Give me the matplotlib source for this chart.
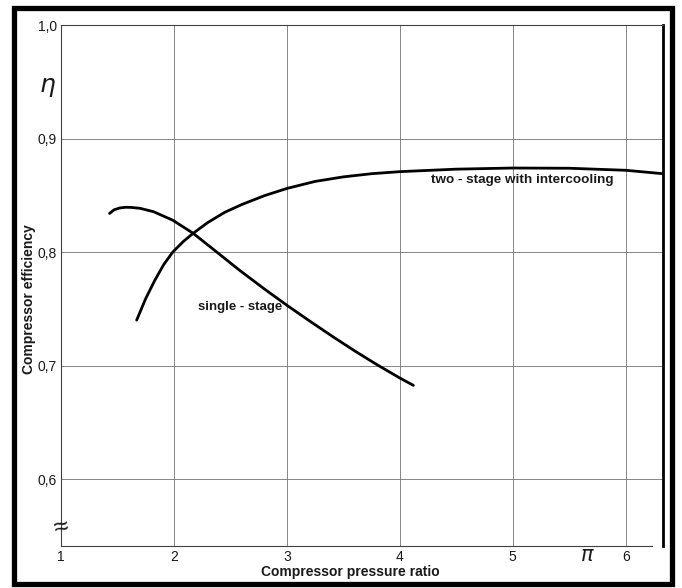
import matplotlib.pyplot as plt
from matplotlib.patches import Rectangle

plt.rcParams['font.family'] = ['Liberation Sans', 'DejaVu Sans']

# compressor efficiency vs pressure ratio
two_stage_pi = [1.67, 1.75, 1.83, 1.91, 1.99, 2.08, 2.17, 2.3, 2.45, 2.6, 2.8, 3.0,
                3.25, 3.5, 3.75, 4.0, 4.5, 5.0, 5.5, 6.0, 6.33]
two_stage_eta = [0.740, 0.759, 0.775, 0.789, 0.800, 0.809, 0.8165, 0.826, 0.835, 0.8418,
                 0.8496, 0.856, 0.8622, 0.8662, 0.869, 0.8708, 0.873, 0.874, 0.8738,
                 0.872, 0.869]

single_stage_pi = [1.43, 1.47, 1.52, 1.57, 1.62, 1.7, 1.82, 1.99, 2.17, 2.4, 2.58, 2.8,
                   3.0, 3.2, 3.41, 3.6, 3.8, 4.0, 4.12]
single_stage_eta = [0.834, 0.8372, 0.8388, 0.8394, 0.8393, 0.8385, 0.8355, 0.828, 0.8165,
                    0.7983, 0.784, 0.7675, 0.7531, 0.7393, 0.7252, 0.7129, 0.7006, 0.689,
                    0.6825]

x_ticks = [1, 2, 3, 4, 5, 6]
y_ticks = [0.6, 0.7, 0.8, 0.9, 1.0]
y_tick_labels = ['0,6', '0,7', '0,8', '0,9', '1,0']

W, H = 682, 588
fig = plt.figure(figsize=(W / 100, H / 100), dpi=100)
ax = fig.add_axes([61 / W, 1 - 546 / H, (663 - 61) / W, (546 - 25) / H])

ax.set_xlim(1, 6.33)
ax.set_ylim(0.541, 1.0)

ax.set_xticks(x_ticks)
ax.set_yticks(y_ticks)
ax.set_yticklabels(y_tick_labels)
ax.tick_params(length=0, labelsize=10, pad=3, colors='#1a1a1a')

ax.grid(True, color='0.45', lw=0.6)
ax.set_axisbelow(True)

for s in ['left', 'top']:
    ax.spines[s].set_linewidth(0.8)
    ax.spines[s].set_color('0.25')
ax.spines['bottom'].set_bounds(1, 6.23)
ax.spines['bottom'].set_linewidth(0.8)
ax.spines['bottom'].set_color('0.25')
ax.spines['right'].set_linewidth(2.0)
ax.spines['right'].set_color('black')

ax.plot(two_stage_pi, two_stage_eta, color='black', lw=2.0, solid_capstyle='round',
        solid_joinstyle='round')
ax.plot(single_stage_pi, single_stage_eta, color='black', lw=2.0, solid_capstyle='round',
        solid_joinstyle='round')

ax.text(5.08, 0.8635, 'two - stage with intercooling', fontsize=9.7, fontweight='bold',
        ha='center', va='center', color='#1a1a1a')
ax.text(2.585, 0.7515, 'single - stage', fontsize=9.5, fontweight='bold',
        ha='center', va='center', color='#1a1a1a')

# symbols and axis break
ax.text(-0.0224, 0.9454, r'$\eta$', transform=ax.get_yaxis_transform(),
        fontsize=18, ha='center', va='center', color='#1a1a1a')
ax.text(5.66, -0.019, r'$\pi$', transform=ax.get_xaxis_transform(),
        fontsize=15, ha='center', va='center', color='#1a1a1a')
ax.text(0, 0.5575, '≈', transform=ax.get_yaxis_transform(), fontsize=19,
        ha='center', va='center', rotation=12, color='#1a1a1a')

fig.text(350 / W, 1 - 572 / H, 'Compressor pressure ratio', fontsize=10,
         fontweight='bold', ha='center', va='center', color='#1a1a1a')
fig.text(29 / W, 1 - 299 / H, 'Compressor efficiency', fontsize=10,
         fontweight='bold', ha='center', va='center', rotation=90, color='#1a1a1a')

# heavy frame round the figure
fig.add_artist(Rectangle((14.5 / W, 1 - 584 / H), (672 - 14.5) / W, (584 - 8) / H,
                         transform=fig.transFigure, fill=False, lw=3.8,
                         edgecolor='black'))

fig.savefig('out.png', dpi=100)
